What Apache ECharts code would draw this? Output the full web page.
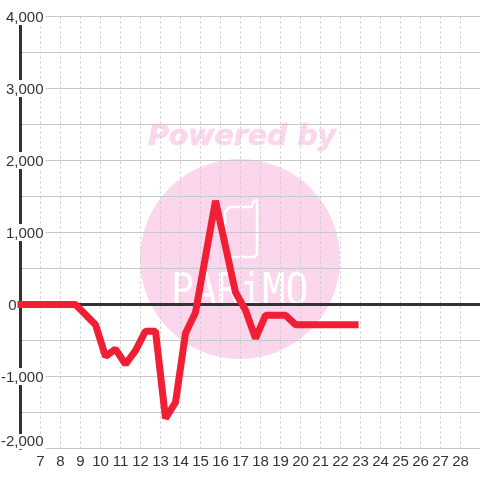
<!DOCTYPE html>
<html>
<head>
<meta charset="utf-8">
<style>
  html, body { margin: 0; padding: 0; background: #fff; }
  #chart { width: 480px; height: 480px; }
</style>
<script src="https://cdn.jsdelivr.net/npm/echarts@6/dist/echarts.min.js"></script>
</head>
<body>
<div id="chart"></div>
<script>
// 横轴是日期刻度，折点读自图上（落在刻度之间）
var xValues = [5.85, 8.75, 9.75, 10.25, 10.75, 11.25, 11.75, 12.25, 12.75, 13.25, 13.75, 14.25, 14.75, 15.75, 16.75, 17.25, 17.75, 18.25, 19.25, 19.75, 22.9];
var yValues = [0, 0, -280, -720, -620, -830, -640, -370, -370, -1580, -1360, -400, -110, 1440, 170, -80, -470, -150, -150, -280, -280];

var xMin = 6, xMax = 29;
var yMin = -2000, yMax = 4000, yStep = 1000;

var lineData = [];
for (var i = 0; i < xValues.length; i++) {
  lineData.push([xValues[i], yValues[i]]);
}

// 水印里的手机轮廓
var phoneOutline = [[230, 207], [252, 207], [253, 202], [256, 200], [257, 203], [257, 254], [254, 257], [228, 257], [225, 254], [225, 212]];

var chart = echarts.init(document.getElementById('chart'), null, { renderer: 'canvas' });

chart.setOption({
  animation: false,
  backgroundColor: '#fff',
  textStyle: { fontFamily: 'Liberation Sans' },
  grid: { left: 20.5, right: -0.5, top: 16.5, bottom: 31.5, outerBoundsMode: 'none' },
  // 水印放在网格线下面
  graphic: [
    { type: 'circle', z: -10, silent: true, shape: { cx: 240, cy: 259, r: 100 }, style: { fill: '#fbd6ec' } },
    { type: 'text', z: -10, silent: true, x: 148, y: 124, style: { text: 'Powered by', fill: '#fbd6ec', stroke: '#fbd6ec', lineWidth: 0.6, font: 'italic bold 28.4px "DejaVu Sans"' } },
    { type: 'polygon', z: -9, silent: true, shape: { points: phoneOutline }, style: { fill: 'none', stroke: '#fff', lineWidth: 2.5, lineJoin: 'round' } },
    { type: 'text', z: -9, silent: true, x: 171, y: 272, scaleY: 1.15, style: { text: 'PARiMO', fill: '#fff', font: '38px "DejaVu Sans Mono"' } }
  ],
  xAxis: [
    {
      type: 'value',
      min: xMin,
      max: xMax,
      interval: 1,
      axisLine: { show: false, onZero: false },
      axisTick: { show: false },
      splitLine: { show: true, lineStyle: { color: '#c8c8c8', type: [2, 3], width: 1 } },
      axisLabel: {
        color: '#333',
        fontSize: 15,
        margin: 6,
        showMinLabel: false,
        showMaxLabel: false
      }
    },
    {
      // 0 线
      type: 'value',
      min: xMin,
      max: xMax,
      position: 'bottom',
      axisLine: { show: true, onZero: true, lineStyle: { color: '#333', width: 3 } },
      axisTick: { show: false },
      axisLabel: { show: false },
      splitLine: { show: false }
    }
  ],
  yAxis: {
    type: 'value',
    min: yMin,
    max: yMax,
    interval: yStep,
    axisLine: { show: true, onZero: false, lineStyle: { color: '#333', width: 3 } },
    axisTick: { show: false },
    splitLine: { show: true, lineStyle: { color: '#c8c8c8', width: 1 } },
    minorTick: { show: false, splitNumber: 2 },
    minorSplitLine: { show: true, lineStyle: { color: '#c8c8c8', width: 1 } },
    axisLabel: {
      color: '#333',
      fontSize: 15,
      margin: -25,
      showMinLabel: true,
      showMaxLabel: true,
      formatter: function(v) {
        if (v === 0) return '{z|0}';
        // 最下面的标签往上抬一点
        if (v === yMin) return '{b|' + v.toLocaleString('en-US') + '}\n{s| }';
        return '{n|' + v.toLocaleString('en-US') + '}';
      },
      rich: {
        n: { color: '#333', fontSize: 15, backgroundColor: '#fff', padding: [2, 2, 0, 2] },
        b: { color: '#333', fontSize: 15, backgroundColor: '#fff', padding: [0, 2, 0, 2] },
        s: { fontSize: 1, height: 14 },
        z: { color: '#333', fontSize: 15, padding: [2, 29, 0, 0] }
      }
    }
  },
  series: [{
    type: 'line',
    data: lineData,
    clip: false,
    showSymbol: false,
    symbol: 'none',
    lineStyle: { color: '#f01f35', width: 7, cap: 'butt', join: 'bevel' }
  }]
});
</script>
</body>
</html>
